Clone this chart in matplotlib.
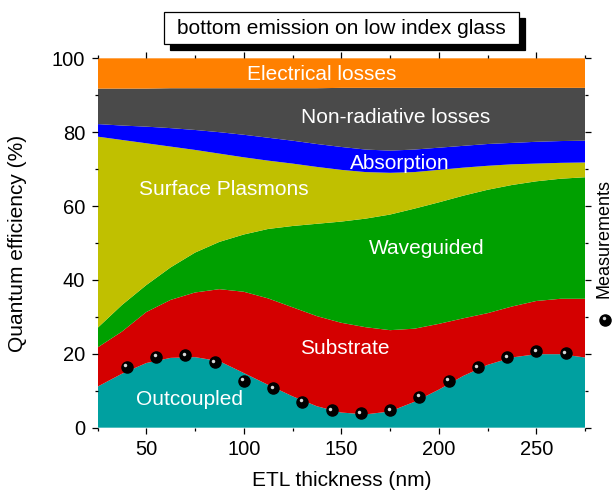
import numpy as np
import matplotlib
matplotlib.use("Agg")
from matplotlib import pyplot as plt
from matplotlib import transforms
from matplotlib.patches import Rectangle

plt.rcParams['font.family'] = ['Liberation Sans', 'DejaVu Sans']

# ETL thickness grid (nm) and loss channels (%)
thickness = [25, 37.5, 50, 62.5, 75, 87.5, 100, 112.5, 125, 137.5, 150,
             162.5, 175, 187.5, 200, 212.5, 225, 237.5, 250, 262.5, 275]
outcoupled = [11.1, 14.6, 17.5, 18.9, 19.1, 18.0, 14.8, 11.6, 8.5, 5.8, 4.1,
              3.6, 4.4, 7.0, 10.3, 14.0, 17.0, 19.0, 19.9, 19.9, 19.0]
substrate = [10.6, 11.4, 13.8, 15.7, 17.5, 19.5, 22.0, 23.4, 24.1, 24.4, 24.3,
             23.6, 22.0, 19.8, 17.8, 15.6, 14.0, 13.8, 14.4, 15.0, 15.9]
waveguided = [5.3, 7.2, 7.3, 8.8, 10.8, 12.8, 15.5, 18.8, 22.0, 25.0, 27.4,
              29.4, 31.3, 32.5, 32.9, 33.2, 33.4, 32.9, 32.4, 32.5, 32.9]
plasmons = [51.8, 44.7, 38.4, 32.7, 27.8, 23.9, 20.9, 18.5, 16.9, 15.4, 14.0,
            12.6, 11.3, 9.9, 8.8, 7.6, 6.5, 5.6, 4.8, 4.3, 4.0]
absorption = [3.4, 3.9, 4.5, 5.0, 5.4, 5.8, 6.1, 6.2, 6.2, 6.2, 6.2,
              6.1, 6.0, 6.1, 6.0, 5.9, 5.9, 5.8, 5.9, 5.9, 5.9]
nonradiative = [9.6, 10.0, 10.3, 10.8, 11.3, 11.9, 12.6, 13.4, 14.2, 15.1, 16.0,
                16.7, 17.0, 16.7, 16.2, 15.7, 15.2, 14.9, 14.6, 14.4, 14.3]
electrical = [8.2, 8.2, 8.2, 8.1, 8.1, 8.1, 8.1, 8.1, 8.1, 8.1, 8.0,
              8.0, 8.0, 8.0, 8.0, 8.0, 8.0, 8.0, 8.0, 8.0, 8.0]

# measured outcoupling efficiency
meas_x = [40, 55, 70, 85, 100, 115, 130, 145, 160, 175, 190, 205, 220, 235, 250, 265]
meas_y = [16.5, 19.2, 19.6, 17.7, 12.7, 10.7, 7.0, 4.7, 3.9, 4.8, 8.4, 12.7, 16.4, 19.0, 20.7, 20.1]

colors = ['#00A0A0', '#D40000', '#00A000', '#C0C000', '#0000FF', '#4A4A4A', '#FF8000']

fig = plt.figure(figsize=(6.14, 4.95), dpi=100)
ax = fig.add_axes([0.1588, 0.136, 0.794, 0.7462])

ax.stackplot(thickness, outcoupled, substrate, waveguided, plasmons,
             absorption, nonradiative, electrical, colors=colors, linewidth=0)

ax.plot(meas_x, meas_y, 'o', color='black', ms=8, zorder=5)
hl = transforms.offset_copy(ax.transData, fig=fig, x=-1.0, y=1.0, units='points')
ax.plot(meas_x, meas_y, 'o', color='#d8d8d8', ms=2.5, mew=0, transform=hl, zorder=6)

ax.set_xlim(25, 275)
ax.set_ylim(0, 100)
ax.set_xticks([50, 100, 150, 200, 250])
ax.set_xticks(np.arange(25, 276, 25), minor=True)
ax.set_yticks([0, 20, 40, 60, 80, 100])
ax.set_yticks(np.arange(0, 101, 10), minor=True)
ax.tick_params(which='both', direction='out', top=True, right=True,
               labelsize=14.5, width=0.9, pad=4.5)
ax.tick_params(which='major', length=4.5)
ax.tick_params(which='minor', length=2.5)
for s in ax.spines.values():
    s.set_visible(False)

ax.set_xlabel('ETL thickness (nm)', fontsize=15)
ax.set_ylabel('Quantum efficiency (%)', fontsize=15)
ax.xaxis.set_label_coords(0.5, -0.118)
ax.yaxis.set_label_coords(-0.145, 0.5)

lbl = dict(color='white', fontsize=15, ha='center', va='center')
ax.text(140, 95.5, 'Electrical losses', **lbl)
ax.text(178, 84.0, 'Non-radiative losses', **lbl)
ax.text(180, 71.6, 'Absorption', **lbl)
ax.text(90, 64.6, 'Surface Plasmons', **lbl)
ax.text(194, 48.6, 'Waveguided', **lbl)
ax.text(152, 21.5, 'Substrate', **lbl)
ax.text(72, 7.5, 'Outcoupled', **lbl)

# title box with drop shadow
fig.patches.append(Rectangle((0.2769, 0.8989), 0.578, 0.0653, transform=fig.transFigure,
                             facecolor='black', edgecolor='black', lw=0.9))
fig.patches.append(Rectangle((0.2671, 0.911), 0.578, 0.0653, transform=fig.transFigure,
                             facecolor='white', edgecolor='black', lw=0.9))
fig.text(0.556, 0.943, 'bottom emission on low index glass', fontsize=15,
         ha='center', va='center')

# measurements legend on the right
fig.text(0.984, 0.518, 'Measurements', rotation=90, fontsize=13,
         ha='center', va='center')
fig.lines.append(plt.Line2D([0.986], [0.354], transform=fig.transFigure,
                            marker='o', color='black', ms=8, ls=''))
fig.lines.append(plt.Line2D([0.9843], [0.357], transform=fig.transFigure,
                            marker='o', color='#d8d8d8', ms=2.5, mew=0, ls=''))

fig.savefig('out.png', dpi=100)
